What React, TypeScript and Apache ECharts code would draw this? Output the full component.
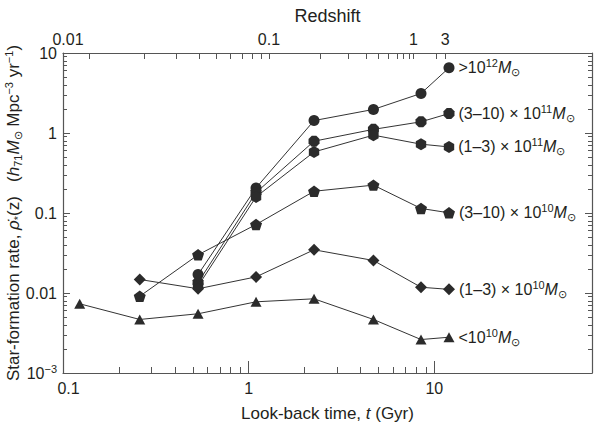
import React, { useEffect, useRef } from "react";
import * as echarts from "echarts";

// ---- data ----
const lookbackGyr = [0.123, 0.259, 0.534, 1.096, 2.25, 4.7, 8.48, 12.0];
const massGt12 = [null, null, 0.017, 0.206, 1.43, 1.97, 3.12, 6.53];
const mass3to10e11 = [null, null, 0.0135, 0.18, 0.79, 1.11, 1.38, 1.75];
const mass1to3e11 = [null, null, 0.0122, 0.159, 0.58, 0.94, 0.725, 0.67];
const mass3to10e10 = [null, 0.0091, 0.03, 0.0718, 0.187, 0.223, 0.114, 0.1005];
const mass1to3e10 = [null, 0.01475, 0.0113, 0.0159, 0.0347, 0.0255, 0.0118, 0.0111];
const massLt10 = [0.00733, 0.00467, 0.0055, 0.00776, 0.00846, 0.00467, 0.00262, 0.0028];

const xLabelTicks = [0.1, 1, 10];
const xMajorTicks = [1, 10];
const xMinorTicks = [0.2, 0.3, 0.4, 0.5, 0.6, 0.7, 0.8, 0.9, 2, 3, 4, 5, 6, 7, 8, 9];
const yLabelTicks = [0.001, 0.01, 0.1, 1, 10];
const yMinorTicks = [
  0.002, 0.003, 0.004, 0.005, 0.006, 0.007, 0.008, 0.009,
  0.02, 0.03, 0.04, 0.05, 0.06, 0.07, 0.08, 0.09,
  0.2, 0.3, 0.4, 0.5, 0.6, 0.7, 0.8, 0.9,
  2, 3, 4, 5, 6, 7, 8, 9,
];
const redshiftTicks = [0.01, 0.02, 0.03, 0.04, 0.05, 0.06, 0.07, 0.08, 0.09, 0.1, 0.2, 0.3, 0.4, 0.5, 0.6, 0.7, 0.8, 0.9, 1, 2, 3];
const redshiftLookback = [0.138, 0.275, 0.409, 0.541, 0.67, 0.797, 0.921, 1.044, 1.166, 1.286, 2.43, 3.46, 4.32, 5.02, 5.67, 6.29, 6.84, 7.31, 7.72, 10.3, 11.46];
const redshiftLabels = [0.01, 0.1, 1, 3];

const seriesValues = [massGt12, mass3to10e11, mass1to3e11, mass3to10e10, mass1to3e10, massLt10];
const seriesLabels = [
  "{t|>10}{sp|12}{i|M}{sb|⊙}",
  "{t|(3–10) × 10}{sp|11}{i|M}{sb|⊙}",
  "{t|(1–3) × 10}{sp|11}{i|M}{sb|⊙}",
  "{t|(3–10) × 10}{sp|10}{i|M}{sb|⊙}",
  "{t|(1–3) × 10}{sp|10}{i|M}{sb|⊙}",
  "{t|<10}{sp|10}{i|M}{sb|⊙}",
];

// ---- styles ----
const FONT = "'Liberation Sans', Arial, Helvetica, sans-serif";
const INK = "#231f20";
const AXIS = "#555555";
const MARK = "#2b2b2b";
const OCTAGON = "path://M-4.14,-10L4.14,-10L10,-4.14L10,4.14L4.14,10L-4.14,10L-10,4.14L-10,-4.14Z";
const HEXAGON = "path://M0,-10L8.66,-5L8.66,5L0,10L-8.66,5L-8.66,-5Z";
const PENTAGON = "path://M0,-10L9.51,-3.09L5.88,8.09L-5.88,8.09L-9.51,-3.09Z";
const seriesSymbols: any[] = ["circle", OCTAGON, HEXAGON, PENTAGON, "diamond", "triangle"];
const seriesSizes: any[] = [11, 11, 12, 12, 12, [11, 10]];

const X_MIN = 0.1;
const X_MAX = 70.7;
const Y_MIN = 0.001;
const Y_MAX = 10;

const richText = (size: number) => ({
  t: { fontSize: size, fontFamily: FONT, color: INK, lineHeight: 20 },
  i: { fontSize: size, fontFamily: FONT, color: INK, fontStyle: "italic", lineHeight: 20 },
  sp: { fontSize: 11, fontFamily: FONT, color: INK, verticalAlign: "top", lineHeight: 12 },
  sb: { fontSize: 11, fontFamily: FONT, color: INK, verticalAlign: "bottom", lineHeight: 12 },
});

function tickOnlyAxis(kind: "x" | "y", position: string, values: number[], length: number, showLine: boolean) {
  const isX = kind === "x";
  return {
    type: "log",
    logBase: 10,
    position,
    min: isX ? X_MIN : Y_MIN,
    max: isX ? X_MAX : Y_MAX,
    axisLine: { show: showLine, lineStyle: { color: AXIS, width: 1.2 } },
    axisTick: { show: true, inside: true, length, customValues: values, lineStyle: { color: AXIS, width: 1 } },
    axisLabel: { show: false },
    splitLine: { show: false },
    minorTick: { show: false },
  };
}

export default function App() {
  const ref = useRef<HTMLDivElement>(null);

  useEffect(() => {
    const chart = echarts.init(ref.current!, null, { renderer: "svg" });

    const topLabelValues = redshiftLabels.map((z) => redshiftLookback[redshiftTicks.indexOf(z)]);

    const series = seriesValues.map((vals, si) => {
      const pts: any[] = [];
      lookbackGyr.forEach((t, i) => {
        const v = vals[i];
        if (v != null) pts.push([t, v]);
      });
      const data = pts.map((p, k) =>
        k === pts.length - 1
          ? {
              value: p,
              label: {
                show: true,
                position: "right",
                distance: 4,
                formatter: seriesLabels[si],
                rich: richText(16),
              },
            }
          : { value: p }
      );
      return {
        type: "line",
        xAxisIndex: 0,
        yAxisIndex: 0,
        data,
        symbol: seriesSymbols[si],
        symbolSize: seriesSizes[si],
        symbolKeepAspect: true,
        showAllSymbol: true,
        lineStyle: { color: "#333", width: 1 },
        itemStyle: { color: MARK },
        label: { show: false },
        emphasis: { disabled: true },
        z: 3,
      };
    });

    const option: any = {
      animation: false,
      backgroundColor: "#ffffff",
      textStyle: { fontFamily: FONT, color: INK },
      grid: { left: 63, right: 8, top: 53, bottom: 59, containLabel: false, outerBoundsMode: "none" },
      xAxis: [
        {
          type: "log",
          logBase: 10,
          position: "bottom",
          min: X_MIN,
          max: X_MAX,
          name: "{t|Look-back time, }{i|t}{t| (Gyr)}",
          nameLocation: "middle",
          nameGap: 30,
          nameMoveOverlap: false,
          nameTextStyle: { rich: richText(17) },
          axisLine: { show: true, lineStyle: { color: AXIS, width: 1.2 } },
          axisTick: { show: true, inside: true, length: 12, customValues: xMajorTicks, lineStyle: { color: AXIS, width: 1 } },
          axisLabel: {
            show: true,
            customValues: xLabelTicks,
            margin: 7,
            fontSize: 16,
            lineHeight: 16,
            fontFamily: FONT,
            color: INK,
            formatter: (v: number) => {
              const s = String(Number(v.toPrecision(3)));
              return v < 0.5 ? "{r|" + s + "}" : s;
            },
            rich: { r: { fontSize: 16, lineHeight: 16, fontFamily: FONT, color: INK, padding: [0, 0, 0, 11] } },
          },
          splitLine: { show: false },
          minorTick: { show: false },
        },
        tickOnlyAxis("x", "bottom", xMinorTicks, 6, false),
        {
          type: "log",
          logBase: 10,
          position: "top",
          min: X_MIN,
          max: X_MAX,
          name: "Redshift",
          nameLocation: "middle",
          nameGap: 27,
          nameMoveOverlap: false,
          nameTextStyle: { fontSize: 18, fontFamily: FONT, color: INK, lineHeight: 20 },
          axisLine: { show: true, lineStyle: { color: AXIS, width: 1.2 } },
          axisTick: { show: true, inside: true, length: 6, customValues: redshiftLookback, lineStyle: { color: AXIS, width: 1 } },
          axisLabel: {
            show: true,
            customValues: topLabelValues,
            margin: 6,
            fontSize: 16,
            lineHeight: 16,
            fontFamily: FONT,
            color: INK,
            formatter: (v: number) => {
              let best = 0;
              let bestD = Infinity;
              redshiftLookback.forEach((t, i) => {
                const d = Math.abs(Math.log(v / t));
                if (d < bestD) {
                  bestD = d;
                  best = i;
                }
              });
              const z = redshiftTicks[best];
              return z === 0.01 ? "{l|0.01}" : String(z);
            },
            rich: { l: { fontSize: 16, lineHeight: 16, fontFamily: FONT, color: INK, padding: [0, 42, 0, 0] } },
          },
          splitLine: { show: false },
          minorTick: { show: false },
        },
      ],
      yAxis: [
        {
          type: "log",
          logBase: 10,
          position: "left",
          min: Y_MIN,
          max: Y_MAX,
          name:
            "{t|Star-formation rate, }{i|ρ\u0307}{sb|*}{t|(z)   (}{i|h}{sb|71}{i|M}{sb|⊙}{t| Mpc}{sp|−3}{t| yr}{sp|−1}{t|)}",
          nameLocation: "middle",
          nameRotate: 90,
          nameGap: 40,
          nameMoveOverlap: false,
          nameTextStyle: { rich: richText(17) },
          axisLine: { show: true, lineStyle: { color: AXIS, width: 1.2 } },
          axisTick: { show: true, inside: true, length: 7, customValues: yLabelTicks, lineStyle: { color: AXIS, width: 1 } },
          axisLabel: {
            show: true,
            customValues: yLabelTicks,
            margin: 6,
            fontSize: 16,
            lineHeight: 20,
            fontFamily: FONT,
            color: INK,
            formatter: (v: number) => {
              const e = Math.round(Math.log10(v));
              if (e <= -3) return "10{sp|−" + -e + "}";
              return e >= 0 ? String(Math.pow(10, e)) : Math.pow(10, e).toFixed(-e);
            },
            rich: { sp: { fontSize: 11, fontFamily: FONT, color: INK, verticalAlign: "top", lineHeight: 12 } },
          },
          splitLine: { show: false },
          minorTick: { show: false },
        },
        tickOnlyAxis("y", "left", yMinorTicks, 4, false),
        tickOnlyAxis("y", "right", yLabelTicks, 7, true),
        tickOnlyAxis("y", "right", yMinorTicks, 4, false),
      ],
      series,
    };

    chart.setOption(option);
    return () => chart.dispose();
  }, []);

  return (
    <div
      ref={ref}
      style={{ position: "fixed", left: 0, top: 0, width: 600, height: 432, background: "#ffffff" }}
    />
  );
}
